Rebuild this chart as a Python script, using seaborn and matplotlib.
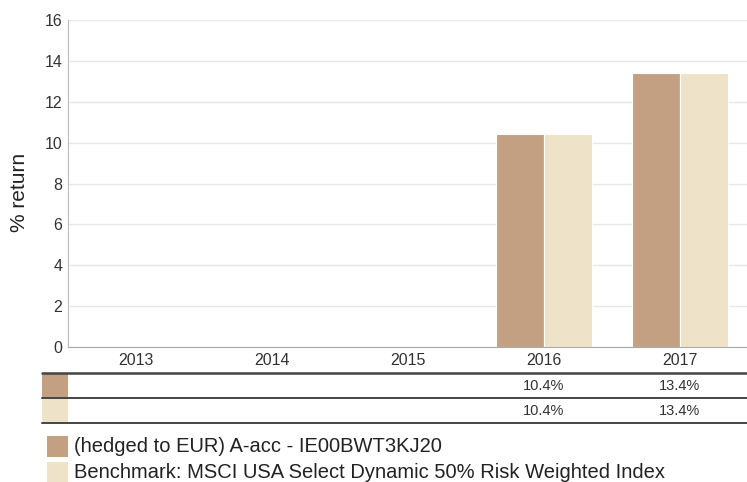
import seaborn as sns
import matplotlib.pyplot as plt
import matplotlib.transforms as mtransforms
import numpy as np
import pandas as pd

years = ["2013", "2014", "2015", "2016", "2017"]
fund = [np.nan, np.nan, np.nan, 10.4, 13.4]
bench = [np.nan, np.nan, np.nan, 10.4, 13.4]
fund_name = "(hedged to EUR) A-acc - IE00BWT3KJ20"
bench_name = "Benchmark: MSCI USA Select Dynamic 50% Risk Weighted Index"
colors = ["#c4a082", "#eee2c8"]

df = pd.DataFrame({
    "year": years * 2,
    "value": fund + bench,
    "series": [fund_name] * 5 + [bench_name] * 5,
})

sns.set_style("white")
plt.rcParams['font.family'] = ['Liberation Sans', 'DejaVu Sans']

fig = plt.figure(figsize=(7.47, 4.82), dpi=100)
ax = fig.add_axes([68/747, 1 - 347/482, 680/747, 327/482])

sns.barplot(data=df, x="year", y="value", hue="series", order=years,
            palette=colors, width=0.71, saturation=1, ax=ax, legend=False,
            edgecolor="white", linewidth=0.8)

ax.set_ylim(0, 16)
ax.set_yticks(range(0, 17, 2))
ax.set_xlim(-0.5, 4.5)
ax.yaxis.grid(True, color="#e8e8e8", linewidth=1)
ax.set_axisbelow(True)
for s in ["top", "right"]:
    ax.spines[s].set_visible(False)
ax.spines["left"].set_color("#bbbbbb")
ax.spines["bottom"].set_color("#aaaaaa")
ax.tick_params(axis="both", length=0, labelsize=11.5, colors="#333333")
ax.tick_params(axis="y", pad=4)
ax.tick_params(axis="x", pad=4)
ax.set_xlabel("")
ax.set_ylabel("% return", fontsize=15, color="#222222", va="center")
ax.yaxis.set_label_coords(-0.071, 0.474)

# table under the chart
trans = mtransforms.blended_transform_factory(ax.transData, fig.transFigure)
H = 482.0
def fy(py):
    return 1 - py / H

for py, lw in [(373, 1.8), (398, 1.4), (423, 1.4)]:
    fig.add_artist(plt.Line2D([42/747, 1], [fy(py), fy(py)], color="#444444", lw=lw))
for i, (vals, c) in enumerate([(fund, colors[0]), (bench, colors[1])]):
    top = 374 + i * 25
    fig.add_artist(plt.Rectangle((42/747, fy(top + 23)), 26/747, 23/H, color=c, lw=0))
    for j, v in enumerate(vals):
        if not np.isnan(v):
            ax.text(j, fy(top + 12), f"{v:.1f}%", transform=trans, ha="center",
                    va="center", fontsize=10.5, color="#333333")

# legend
for i, (name, c) in enumerate([(fund_name, colors[0]), (bench_name, colors[1])]):
    top = 436 + i * 26
    fig.add_artist(plt.Rectangle((47/747, fy(top + 21)), 21/747, 21/H, color=c, lw=0))
    fig.text(74/747, fy(top + 11), name, fontsize=14.5, color="#222222", va="center")

fig.savefig("out.png", dpi=100)
